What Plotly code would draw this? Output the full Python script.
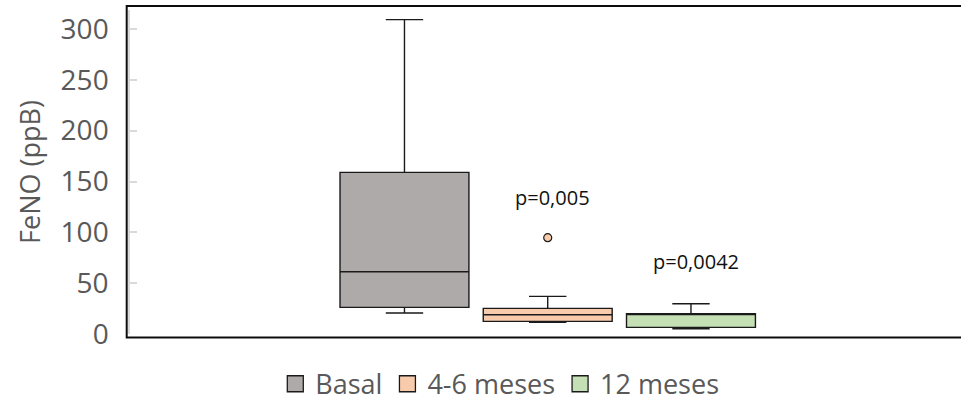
import plotly.graph_objects as go

# ---- data ----
groups = ["Basal", "4-6 meses", "12 meses"]
lower_fence = [20.7, 11.4, 5.2]
q1_vals = [26.2, 12.4, 6.5]
median_vals = [61.3, 19.0, 19.5]
q3_vals = [159.0, 25.2, 20.0]
upper_fence = [309.2, 37.0, 29.8]
fill_colors = ["#AEAAAA", "#F8CBAD", "#C5E0B4"]

outlier_group = ["4-6 meses"]
outlier_vals = [94.7]

pval_groups = ["4-6 meses", "12 meses"]
pval_y = [134, 71]
pval_text = ["p=0,005", "p=0,0042"]

y_ticks = [0, 50, 100, 150, 200, 250, 300]

FONT = "Open Sans"
GREY_TXT = "#595959"
EDGE = "#1a1a1a"

fig = go.Figure()

for i, g in enumerate(groups):
    fig.add_trace(go.Box(
        x=[g], q1=[q1_vals[i]], median=[median_vals[i]], q3=[q3_vals[i]],
        lowerfence=[lower_fence[i]], upperfence=[upper_fence[i]],
        fillcolor=fill_colors[i], line=dict(color=EDGE, width=1.4),
        whiskerwidth=0.29, name=g, showlegend=False, boxpoints=False,
        hoverinfo="skip",
    ))

fig.add_trace(go.Scatter(
    x=outlier_group, y=outlier_vals, mode="markers",
    marker=dict(symbol="circle", size=8, color=fill_colors[1],
                line=dict(color=EDGE, width=1.2)),
    showlegend=False, hoverinfo="skip",
))

# legend entries
for i, g in enumerate(groups):
    fig.add_trace(go.Scatter(
        x=[None], y=[None], mode="markers", name=g,
        marker=dict(symbol="square", size=16, color=fill_colors[i],
                    line=dict(color=EDGE, width=1.3)),
        showlegend=True,
    ))

for g, yv, t in zip(pval_groups, pval_y, pval_text):
    fig.add_annotation(x=g, y=yv, text=t, showarrow=False,
                       font=dict(family=FONT, size=20, color="#111111"),
                       xshift=5)

W, H = 961, 413
ML, MR, MT, MB = 130, 0, 10, 79
pw = W - ML - MR
ph = H - MT - MB

# black frame around plot area
fig.add_shape(type="rect", xref="paper", yref="paper",
              x0=-(3.3 / pw), x1=1.02, y0=-(3.5 / ph), y1=1 + 4 / ph,
              line=dict(color="#0d0d0d", width=2), fillcolor="rgba(0,0,0,0)",
              layer="above")

fig.update_layout(
    width=W, height=H,
    margin=dict(l=ML, r=MR, t=MT, b=MB),
    paper_bgcolor="white", plot_bgcolor="white",
    boxmode="overlay", boxgap=0.1, boxgroupgap=0,
    font=dict(family=FONT, color=GREY_TXT),
    legend=dict(orientation="h", x=0.445, xanchor="center", y=-0.155,
                yanchor="middle", font=dict(family=FONT, size=27, color=GREY_TXT),
                bgcolor="rgba(0,0,0,0)", itemsizing="trace"),
    xaxis=dict(type="category", categoryorder="array", categoryarray=groups,
               range=[-1.916, 3.885], showticklabels=False, ticks="",
               showline=False, showgrid=False, zeroline=False),
    yaxis=dict(range=[0, ph / (305 / 300)], tickvals=y_ticks,
               showline=True, linecolor="#D9D9D9", linewidth=1.5,
               ticks="inside", ticklen=7, tickcolor="#D9D9D9", tickwidth=1.5,
               showgrid=False, zeroline=False,
               tickfont=dict(family=FONT, size=28, color=GREY_TXT),
               ticklabelstandoff=14,
               title=dict(text="FeNO (ppB)", standoff=12,
                          font=dict(family=FONT, size=27, color=GREY_TXT))),
)

fig.write_html("out.html")
